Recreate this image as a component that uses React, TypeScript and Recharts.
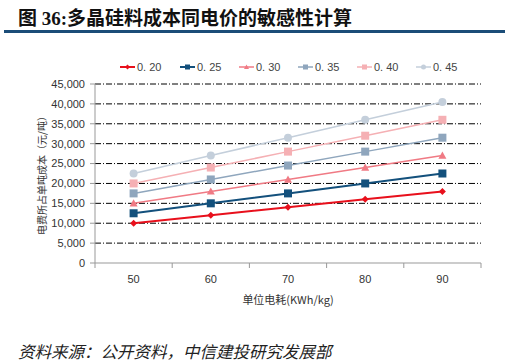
import React from "react";
import { LineChart, Line, XAxis, YAxis, CartesianGrid } from "recharts";

const categories = [50, 60, 70, 80, 90];
const seriesNames = ["0. 20", "0. 25", "0. 30", "0. 35", "0. 40", "0. 45"];
const s020 = [10000, 12000, 14000, 16000, 18000];
const s025 = [12500, 15000, 17500, 20000, 22500];
const s030 = [15000, 18000, 21000, 24000, 27000];
const s035 = [17500, 21000, 24500, 28000, 31500];
const s040 = [20000, 24000, 28000, 32000, 36000];
const s045 = [22500, 27000, 31500, 36000, 40500];
const yTicks = [0, 5000, 10000, 15000, 20000, 25000, 30000, 35000, 40000, 45000];

const seriesValues = [s020, s025, s030, s035, s040, s045];
const colors = ["#e8101c", "#13507c", "#f07a84", "#8fa6bd", "#f5b0b4", "#c4cfdb"];
const shapes = ["diamond", "square", "triangle", "square", "square", "circle"];
const widths = [2, 2, 1.5, 1.5, 1.5, 1.5];

const data = categories.map((c, i) => {
  const row: any = { x: c };
  seriesNames.forEach((n, k) => {
    row["s" + k] = seriesValues[k][i];
  });
  return row;
});

function Marker({ cx, cy, shape, color, size = 4 }: any) {
  if (cx == null || cy == null) return null;
  const r = size;
  if (shape === "diamond")
    return <polygon points={`${cx},${cy - r} ${cx + r},${cy} ${cx},${cy + r} ${cx - r},${cy}`} fill={color} />;
  if (shape === "square")
    return <rect x={cx - r} y={cy - r} width={2 * r} height={2 * r} fill={color} />;
  if (shape === "triangle")
    return <polygon points={`${cx},${cy - r} ${cx + r},${cy + r * 0.8} ${cx - r},${cy + r * 0.8}`} fill={color} />;
  return <circle cx={cx} cy={cy} r={r} fill={color} />;
}

const BAND = 77.2;

function XTick(props: any) {
  const { x, y, payload, index } = props;
  const last = index === categories.length - 1;
  return (
    <g>
      <line x1={x - BAND / 2} x2={x - BAND / 2} y1={y - 8} y2={y - 3} stroke="#999" />
      {last && <line x1={x + BAND / 2} x2={x + BAND / 2} y1={y - 8} y2={y - 3} stroke="#999" />}
      <text x={x} y={y + 12} textAnchor="middle" fontSize={11} fill="#333" fontFamily="Liberation Sans, Arial, sans-serif">
        {payload.value}
      </text>
    </g>
  );
}

export default function App() {
  return (
    <div style={{ position: "absolute", left: 0, top: 0, width: 525, height: 364, background: "#fff", overflow: "hidden" }}>
      <div
        style={{
          position: "absolute",
          left: 18,
          top: 3,
          fontSize: 19,
          fontWeight: "bold",
          fontFamily: "'Liberation Serif', 'Noto Sans CJK SC', serif",
          color: "#111",
          whiteSpace: "nowrap",
        }}
      >
        图 36:多晶硅料成本同电价的敏感性计算
      </div>
      <div style={{ position: "absolute", left: 4, top: 30, width: 501, height: 3, background: "#1b4d78" }} />

      <div style={{ position: "absolute", left: 120, top: 61, display: "flex", fontSize: 11, fontFamily: "Liberation Sans, Arial, sans-serif", color: "#444" }}>
        {seriesNames.map((n, k) => (
          <div key={n} style={{ display: "flex", alignItems: "center", width: k === 0 ? 60 : 59 }}>
            <svg width={16} height={12}>
              <line x1={0} x2={15} y1={6} y2={6} stroke={colors[k]} strokeWidth={widths[k]} />
              <Marker cx={7.5} cy={6} shape={shapes[k]} color={colors[k]} size={2.5} />
            </svg>
            <span style={{ marginLeft: 1 }}>{n}</span>
          </div>
        ))}
      </div>

      <div
        style={{
          position: "absolute",
          left: 42 - 80,
          top: 173 - 8,
          width: 160,
          height: 16,
          lineHeight: "16px",
          textAlign: "center",
          transform: "rotate(-90deg)",
          fontSize: 10,
          fontFamily: "'Noto Sans CJK SC', sans-serif",
          color: "#333",
          whiteSpace: "nowrap",
        }}
      >
        电费所占单吨成本（元/吨）
      </div>

      <div style={{ position: "absolute", left: 0, top: 0 }}>
        <LineChart width={525} height={364} data={data} margin={{ top: 84, right: 44, bottom: 71, left: 0 }}>
          <CartesianGrid vertical={false} stroke="#000" strokeDasharray="6 2 1 2" horizontalValues={yTicks.slice(1)} />
          <XAxis
            dataKey="x"
            type="category"
            scale="band"
            height={30}
            axisLine={{ stroke: "#999" }}
            tickLine={false}
            tick={<XTick />}
            interval={0}
          />
          <YAxis
            width={95}
            domain={[0, 45000]}
            ticks={yTicks}
            interval={0}
            tickFormatter={(v: number) => v.toLocaleString("en-US")}
            axisLine={{ stroke: "#999" }}
            tickLine={{ stroke: "#999" }}
            tickSize={5}
            tickMargin={5}
            tick={{ fontSize: 11, fill: "#333", fontFamily: "Liberation Sans, Arial, sans-serif" }}
          />
          {seriesNames.map((n, k) => (
            <Line
              key={n}
              dataKey={"s" + k}
              name={n}
              stroke={colors[k]}
              strokeWidth={widths[k]}
              isAnimationActive={false}
              dot={(p: any) => <Marker key={p.index} cx={p.cx} cy={p.cy} shape={shapes[k]} color={colors[k]} size={k === 0 ? 3.5 : 4} />}
              activeDot={false}
            />
          ))}
        </LineChart>
      </div>

      <div
        style={{
          position: "absolute",
          left: 0,
          width: 576,
          top: 291,
          textAlign: "center",
          fontSize: 11,
          fontFamily: "'Noto Sans CJK SC', sans-serif",
          color: "#333",
        }}
      >
        单位电耗(KWh/kg)
      </div>

      <div
        style={{
          position: "absolute",
          left: 18,
          top: 339,
          fontSize: 16.5,
          fontStyle: "italic",
          fontFamily: "'Noto Sans CJK SC', sans-serif",
          color: "#222",
          whiteSpace: "nowrap",
        }}
      >
        资料来源：公开资料，中信建投研究发展部
      </div>
    </div>
  );
}
